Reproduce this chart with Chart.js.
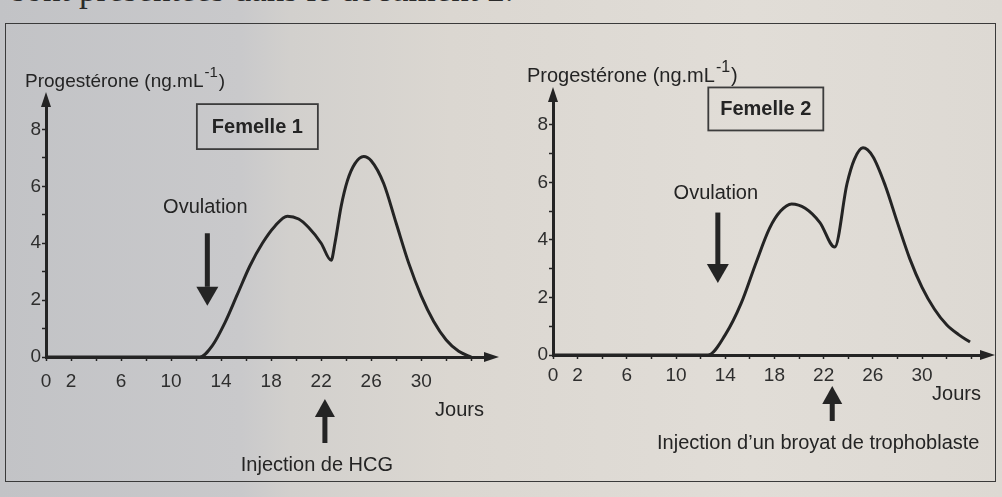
<!DOCTYPE html>
<html>
<head>
<meta charset="utf-8">
<script src="https://cdn.jsdelivr.net/npm/chart.js@4"></script>
<style>
  html, body { margin: 0; padding: 0; }
  body {
    width: 1002px; height: 497px; overflow: hidden; position: relative;
    background: linear-gradient(90deg, #c2c3c6 0%, #c9c9cb 24%, #d2d0cd 29%, #dbd7d1 45%, #e1ddd7 75%, #ddd9d3 100%);
  }
  #haut {
    position: absolute; left: 12px; top: -30px; margin: 0;
    font: 35px "Liberation Serif", "Times New Roman", serif; color: #2a2a2a; white-space: nowrap;
  }
  #cadre {
    position: absolute; left: 5px; top: 23px; width: 989px; height: 457px;
    border: 1.5px solid #3a3a3a;
  }
  canvas { position: absolute; top: 0; }
  #c1 { left: 0; }
  #c2 { left: 500px; }
</style>
</head>
<body>
<p id="haut">sont présentées dans le document 2.</p>
<div id="cadre"></div>
<canvas id="c1" width="500" height="497"></canvas>
<canvas id="c2" width="502" height="497"></canvas>
<script>
  const jours1 = [0, 4, 8, 12.3, 13.3, 14.3, 15.3, 16.3, 17.3, 18.3, 19.3, 20.2, 21.0, 22.0, 22.8, 23.1, 23.6, 24.1, 24.7, 25.4, 26.0, 27.0, 28.0, 29.0, 30.0, 31.0, 32.0, 33.0, 34.0];
  const progesterone1 = [0, 0, 0, 0, 0.4, 1.2, 2.2, 3.2, 4.0, 4.6, 4.95, 4.85, 4.55, 4.0, 3.4, 4.0, 5.3, 6.2, 6.8, 7.05, 6.9, 6.1, 4.7, 3.3, 2.15, 1.25, 0.6, 0.2, 0];

  const jours2 = [0, 4, 8, 12.6, 14.0, 15.3, 16.5, 17.6, 18.5, 19.4, 20.5, 21.7, 22.9, 23.9, 24.5, 25.2, 26.0, 27.0, 28.0, 29.0, 30.0, 31.0, 32.0, 33.0, 33.9];
  const progesterone2 = [0, 0, 0, 0, 0.7, 1.8, 3.2, 4.4, 5.0, 5.25, 5.1, 4.6, 3.75, 5.95, 6.8, 7.2, 6.9, 5.9, 4.6, 3.35, 2.35, 1.6, 1.05, 0.7, 0.45];

  const joursEtiquettes = [0, 2, 6, 10, 14, 18, 22, 26, 30];
  const progesteroneEtiquettes = [0, 2, 4, 6, 8];

  const POLICE = '"Liberation Sans", Arial, sans-serif';
  const ENCRE = "#242424";

  function fleche(ctx, x, yQueue, yPointe, largeur, hauteur, epaisseur) {
    const sens = yPointe > yQueue ? 1 : -1;
    const baseTete = yPointe - sens * hauteur;
    ctx.fillRect(x - epaisseur / 2, Math.min(yQueue, baseTete), epaisseur, Math.abs(baseTete - yQueue));
    ctx.beginPath();
    ctx.moveTo(x, yPointe);
    ctx.lineTo(x - largeur / 2, baseTete);
    ctx.lineTo(x + largeur / 2, baseTete);
    ctx.closePath();
    ctx.fill();
  }

  function decor(cfg) {
    return {
      id: "decor",
      afterDraw(chart) {
        const { ctx, scales: { x, y } } = chart;
        const x0 = x.getPixelForValue(0);
        const y0 = y.getPixelForValue(0);
        ctx.save();
        ctx.fillStyle = ENCRE;
        ctx.strokeStyle = ENCRE;

        // pointes des axes
        ctx.beginPath();
        ctx.moveTo(x.right + 9, y0);
        ctx.lineTo(x.right - 6, y0 - 5);
        ctx.lineTo(x.right - 6, y0 + 5);
        ctx.fill();
        ctx.beginPath();
        ctx.moveTo(x0, y.top - 9);
        ctx.lineTo(x0 - 5, y.top + 6);
        ctx.lineTo(x0 + 5, y.top + 6);
        ctx.fill();

        // titre de l'axe vertical
        ctx.textBaseline = "alphabetic";
        ctx.textAlign = "left";
        ctx.font = cfg.tailleTitre + "px " + POLICE;
        const t = "Progestérone (ng.mL";
        const tx = x0 + cfg.titreDx, ty = y.top + cfg.titreDy;
        ctx.fillText(t, tx, ty);
        let w = ctx.measureText(t).width;
        ctx.font = (cfg.tailleTitre - 4) + "px " + POLICE;
        ctx.fillText("-1", tx + w + 1, ty - 10);
        w += ctx.measureText("-1").width + 2;
        ctx.font = cfg.tailleTitre + "px " + POLICE;
        ctx.fillText(")", tx + w, ty);

        // Jours
        ctx.font = cfg.taille + "px " + POLICE;
        ctx.textAlign = "right";
        ctx.fillText("Jours", x.right + cfg.joursDx, y0 + cfg.joursDy);

        // cadre Femelle
        const bx = x.getPixelForValue(cfg.boite[0]);
        const by = y.getPixelForValue(cfg.boite[1]);
        ctx.lineWidth = 1.8;
        ctx.strokeStyle = "#3c3c3c";
        ctx.strokeRect(bx - cfg.boite[2] / 2, by - cfg.boite[3] / 2, cfg.boite[2], cfg.boite[3]);
        ctx.textAlign = "center";
        ctx.textBaseline = "middle";
        ctx.font = "bold " + cfg.taille + "px " + POLICE;
        ctx.fillText(cfg.nom, bx, by + 1);

        // ovulation
        ctx.font = cfg.taille + "px " + POLICE;
        const ox = x.getPixelForValue(cfg.ovulation[0]);
        ctx.fillText("Ovulation", ox - 2, y.getPixelForValue(cfg.ovulation[1]));
        fleche(ctx, ox, y.getPixelForValue(cfg.ovulation[2]), y.getPixelForValue(cfg.ovulation[3]), 22, 19, 5);

        // injection
        const ix = x.getPixelForValue(cfg.injection[0]);
        fleche(ctx, ix, y0 + cfg.injection[2], y0 + cfg.injection[1], 20, 18, 5);
        ctx.fillText(cfg.texteInjection, ix + cfg.injection[4], y0 + cfg.injection[3]);
        ctx.restore();
      }
    };
  }

  function graphique(id, jours, valeurs, cfg) {
    const ctx = document.getElementById(id).getContext("2d");
    new Chart(ctx, {
      type: "line",
      data: {
        datasets: [{
          data: jours.map((j, i) => ({ x: j, y: valeurs[i] })),
          borderColor: ENCRE,
          borderWidth: 3,
          pointRadius: 0,
          cubicInterpolationMode: "monotone",
          fill: false,
          clip: false
        }]
      },
      options: {
        responsive: false,
        animation: false,
        devicePixelRatio: 1,
        layout: { padding: cfg.marges },
        plugins: { legend: { display: false }, tooltip: { enabled: false } },
        scales: {
          x: {
            type: "linear",
            min: 0,
            max: cfg.xMax,
            afterBuildTicks: s => {
              s.ticks = [];
              for (let d = 0; d <= 34; d += 2) s.ticks.push({ value: d });
            },
            afterFit: s => { s.height = 40; },
            ticks: {
              autoSkip: false,
              maxRotation: 0,
              padding: cfg.ecartGraduation,
              color: "#2e2e2e",
              font: { size: cfg.tailleGraduation, family: POLICE },
              callback: v => joursEtiquettes.includes(v) ? String(v) : ""
            },
            grid: { drawOnChartArea: false, tickLength: 4, tickColor: ENCRE, tickWidth: 1.5 },
            border: { display: true, color: ENCRE, width: 3 }
          },
          y: {
            min: 0,
            max: 9,
            afterBuildTicks: s => {
              s.ticks = [];
              for (let v = 0; v <= 8; v++) s.ticks.push({ value: v });
            },
            afterFit: s => { s.width = cfg.largeurY; },
            ticks: {
              padding: 1,
              color: "#2e2e2e",
              font: { size: cfg.tailleGraduation, family: POLICE },
              callback: v => progesteroneEtiquettes.includes(v) ? String(v) : ""
            },
            grid: { drawOnChartArea: false, tickLength: 4, tickColor: ENCRE, tickWidth: 1.5 },
            border: { display: true, color: ENCRE, width: 3 }
          }
        }
      },
      plugins: [decor(cfg)]
    });
  }

  document.addEventListener("DOMContentLoaded", () => {
    graphique("c1", jours1, progesterone1, {
      nom: "Femelle 1",
      texteInjection: "Injection de HCG",
      taille: 20,
      tailleTitre: 19,
      tailleGraduation: 19,
      ecartGraduation: 9,
      xMax: 35.5,
      largeurY: 46,
      marges: { left: 0, top: 101, right: 10, bottom: 100 },
      titreDx: -21, titreDy: -14,
      joursDx: -6, joursDy: 59,
      boite: [16.9, 8.1, 121, 45],
      ovulation: [12.9, 5.25, 4.35, 1.8],
      injection: [22.3, 42, 86, 108, -8]
    });
    graphique("c2", jours2, progesterone2, {
      nom: "Femelle 2",
      texteInjection: "Injection d\u2019un broyat de trophoblaste",
      taille: 20,
      tailleTitre: 20,
      tailleGraduation: 19,
      ecartGraduation: 5,
      xMax: 35.2,
      largeurY: 53,
      marges: { left: 0, top: 96, right: 16, bottom: 102 },
      titreDx: -26, titreDy: -14,
      joursDx: -5, joursDy: 45,
      boite: [17.3, 8.55, 115, 43],
      ovulation: [13.4, 5.6, 4.95, 2.5],
      injection: [22.7, 31, 66, 88, -14]
    });
  });
</script>
</body>
</html>
